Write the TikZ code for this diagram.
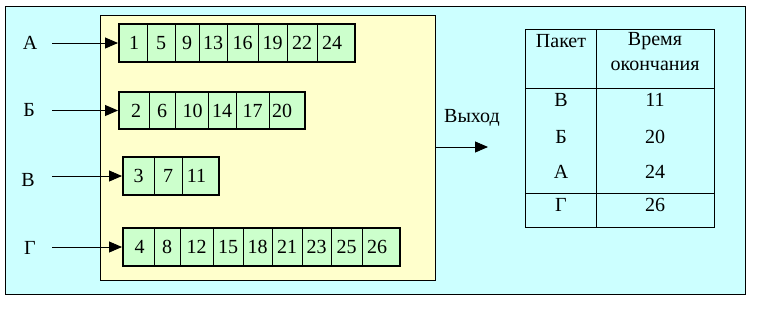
\documentclass[tikz,border=0pt]{standalone}
\usepackage{fontspec}
\setmainfont{Liberation Serif}
\usetikzlibrary{arrows.meta,positioning}
\definecolor{bgcyan}{HTML}{CCFFFF}
\definecolor{bgyellow}{HTML}{FFFFCC}
\definecolor{cellgreen}{HTML}{CCFFCC}
\tikzset{
  qframe/.style={draw=black, line width=2pt, inner sep=0pt},
  qcell/.style={draw=black, line width=0.8pt, fill=cellgreen, inner sep=0pt, minimum height=37},
  arr/.style={-{Triangle[length=13pt, width=11pt]}, line width=0.9pt},
  lbl/.style={inner sep=0pt, font=\fontsize{20}{23}\selectfont},
}
\begin{document}
\begin{tikzpicture}[x=1pt, y=-1pt]
\useasboundingbox (0,0) rectangle (757,309);
\fill[white] (0,0) rectangle (757,309);
\draw[fill=bgcyan, line width=1pt] (5,6) rectangle (745,294);
\draw[fill=bgyellow, line width=1pt] (100,15) rectangle (435,280);
% queues
\foreach \l/\r/\t/\s in {119/147/1/1, 147/175/5/0, 175/199/9/0, 199/227/13/0, 227/258/16/0, 258/287/19/0, 287/317/22/0, 317/355/24/-4}
  \node[qcell, minimum width=\r-\l] at ({(\l+\r)/2},43) {};
\foreach \l/\r/\t/\s in {119/147/1/1, 147/175/5/0, 175/199/9/0, 199/227/13/0, 227/258/16/0, 258/287/19/0, 287/317/22/0, 317/355/24/-4}
  \node[lbl] at ({(\l+\r)/2+\s},43) {\t};
\node[qframe, minimum width=236, minimum height=38] (qA) at (237,43) {};
\foreach \l/\r/\t/\s in {119/149/2/2, 149/175/6/0, 175/208/10/1, 208/236/14/0, 236/269/17/0, 269/305/20/-5}
  \node[qcell, minimum width=\r-\l] at ({(\l+\r)/2},110.5) {};
\foreach \l/\r/\t/\s in {119/149/2/2, 149/175/6/0, 175/208/10/1, 208/236/14/0, 236/269/17/0, 269/305/20/-5}
  \node[lbl] at ({(\l+\r)/2+\s},110.5) {\t};
\node[qframe, minimum width=186, minimum height=37] (qB) at (212,110.5) {};
\foreach \l/\r/\t/\s in {123/154/3/0, 154/182/7/0, 182/219/11/-4}
  \node[qcell, minimum width=\r-\l] at ({(\l+\r)/2},176) {};
\foreach \l/\r/\t/\s in {123/154/3/0, 154/182/7/0, 182/219/11/-4}
  \node[lbl] at ({(\l+\r)/2+\s},176) {\t};
\node[qframe, minimum width=96, minimum height=38] (qV) at (171,176) {};
\foreach \l/\r/\t/\s in {123/154/4/1, 154/180/8/0, 180/213/12/0, 213/243/15/0, 243/272/18/0, 272/302/21/0, 302/331/23/0, 331/362/25/0, 362/400/26/-4}
  \node[qcell, minimum width=\r-\l] at ({(\l+\r)/2},247) {};
\foreach \l/\r/\t/\s in {123/154/4/1, 154/180/8/0, 180/213/12/0, 213/243/15/0, 243/272/18/0, 272/302/21/0, 302/331/23/0, 331/362/25/0, 362/400/26/-4}
  \node[lbl] at ({(\l+\r)/2+\s},247) {\t};
\node[qframe, minimum width=277, minimum height=38] (qG) at (261.5,247) {};
% inputs
\node[lbl] (lA) at (30,43) {А};
\node[lbl] (lB) at (29,110) {Б};
\node[lbl] (lV) at (28,180) {В};
\node[lbl] (lG) at (30,248) {Г};
\coordinate (iA) at (52,43);
\coordinate (iB) at (52,110.5);
\coordinate (iV) at (52,176);
\coordinate (iG) at (52,247);
\draw[arr] (iA) -- (qA.west);
\draw[arr] (iB) -- (qB.west);
\draw[arr] (iV) -- (qV.west);
\draw[arr] (iG) -- (qG.west);
% output
\coordinate (oS) at (435,147);
\coordinate (oE) at (488,147);
\draw[arr] (oS) -- (oE);
\node[lbl] (out) at (472,118) {Выход};
% table
\draw[line width=1pt] (525,29) rectangle (714,227);
\draw[line width=1pt] (596,29) -- (596,227);
\draw[line width=1pt] (525,88) -- (714,88);
\draw[line width=1pt] (525,193) -- (714,193);
\node[lbl] (hP) at (561,41) {Пакет};
\node[lbl] (hT) at (655,41) {Время};
\node[lbl] (hT2) at (655,66) {окончания};
\node[lbl] (pV) at (561,100) {В};
\node[lbl] (tV) at (655,100) {11};
\node[lbl] (pB) at (561,137) {Б};
\node[lbl] (tB) at (655,137) {20};
\node[lbl] (pA) at (561,172) {А};
\node[lbl] (tA) at (655,172) {24};
\node[lbl] (pG) at (561,205) {Г};
\node[lbl] (tG) at (655,205) {26};
\end{tikzpicture}
\end{document}
